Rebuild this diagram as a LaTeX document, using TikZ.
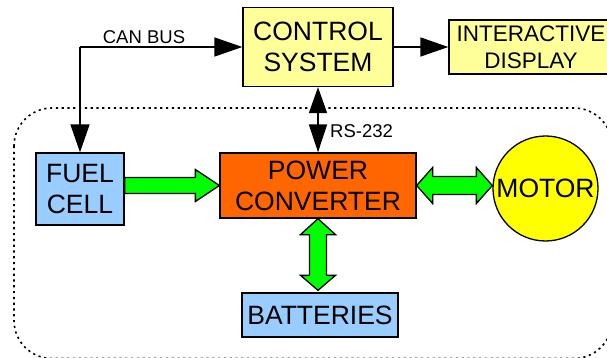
\documentclass[tikz,border=0pt]{standalone}
\usepackage{fontspec}
\setmainfont{Liberation Sans}
\usetikzlibrary{arrows.meta,calc}
\definecolor{boxyellow}{HTML}{FFFF99}
\definecolor{boxblue}{HTML}{99CCFF}
\definecolor{convorange}{HTML}{FF6600}
\definecolor{motoryellow}{HTML}{FFFF00}
\definecolor{arrowgreen}{HTML}{00FF00}
\begin{document}
\begin{tikzpicture}[x=1pt,y=-1pt,
  blk/.style={draw=black, line width=1.3pt, inner sep=0pt, align=center,
    font=\fontsize{26.5}{31}\selectfont},
  lbl/.style={inner sep=0pt, font=\fontsize{18.5}{22}\selectfont},
  conn/.style={draw=black, line width=1.6pt},
  tip/.style={-{Triangle[length=28pt,width=19pt]}},
  garrow/.style={draw=black, line width=1.3pt, fill=arrowgreen, line join=miter},
  boundary/.style={draw=black, line width=1.6pt, dash pattern=on 2.2pt off 3.6pt, rounded corners=38pt}]
\useasboundingbox (0,0) rectangle (607,358);
\clip (0,0) rectangle (607,358);
\fill[white] (0,0) rectangle (607,358);
% dotted system boundary
\draw[boundary] (14,108) rectangle (612,358.5);
% nodes
\node[blk, fill=boxyellow, minimum width=150pt, minimum height=79pt] (ctrl) at (318,47) {CONTROL\\SYSTEM};
\node[blk, fill=boxyellow, minimum width=164pt, minimum height=54pt,
  font=\fontsize{22.5}{27}\selectfont] (disp) at (531,47) {INTERACTIVE\\DISPLAY};
\node[blk, fill=boxblue, minimum width=88pt, minimum height=72pt] (fuel) at (80,189) {FUEL\\CELL};
\node[blk, fill=convorange, minimum width=196pt, minimum height=65pt] (conv) at (318,185.5) {POWER\\CONVERTER};
\node[blk, fill=motoryellow, circle, minimum size=105pt] (motor) at (545.5,188.5) {MOTOR};
\node[blk, fill=boxblue, minimum width=156pt, minimum height=44pt] (batt) at (320,315) {BATTERIES};
% labels
\node[lbl] (canlbl) at (144,37) {CAN BUS};
\node[lbl, anchor=west] (rslbl) at (330,131) {RS-232};
% control connectors
\coordinate (canc) at (fuel.north |- ctrl.west);
\draw[conn, tip] (canc) -- (ctrl.west);
\draw[conn, tip] (canc) -- (fuel.north);
\draw[conn, tip] (ctrl.east) -- (disp.west);
\draw[conn, {Triangle[length=26pt,width=18pt]}-{Triangle[length=28pt,width=18pt]}] (ctrl.south) -- (conv.north);
% green power arrows
\coordinate (fa) at (fuel.east |- conv.west);
\coordinate (fb) at (conv.west);
\draw[garrow] ($(fa)+(0,-8)$) -- ($(fb)+(-24,-8)$) -- ($(fb)+(-24,-16)$) -- (fb)
  -- ($(fb)+(-24,16)$) -- ($(fb)+(-24,8)$) -- ($(fa)+(0,8)$) -- cycle;
\coordinate (ma) at (conv.east);
\coordinate (mb) at (motor.west |- conv.east);
\draw[garrow] (ma) -- ($(ma)+(16,-18)$) -- ($(ma)+(16,-9)$) -- ($(mb)+(-16,-9)$)
  -- ($(mb)+(-16,-18)$) -- (mb) -- ($(mb)+(-16,18)$) -- ($(mb)+(-16,9)$)
  -- ($(ma)+(16,9)$) -- ($(ma)+(16,18)$) -- cycle;
\coordinate (ba) at (conv.south);
\coordinate (bb) at ($(conv.south |- batt.north)+(0,-2)$);
\draw[garrow] (ba) -- ($(ba)+(17.5,16)$) -- ($(ba)+(8.5,16)$) -- ($(bb)+(8.5,-15)$)
  -- ($(bb)+(17.5,-15)$) -- (bb) -- ($(bb)+(-17.5,-15)$) -- ($(bb)+(-8.5,-15)$)
  -- ($(ba)+(-8.5,16)$) -- ($(ba)+(-17.5,16)$) -- cycle;
\end{tikzpicture}
\end{document}
